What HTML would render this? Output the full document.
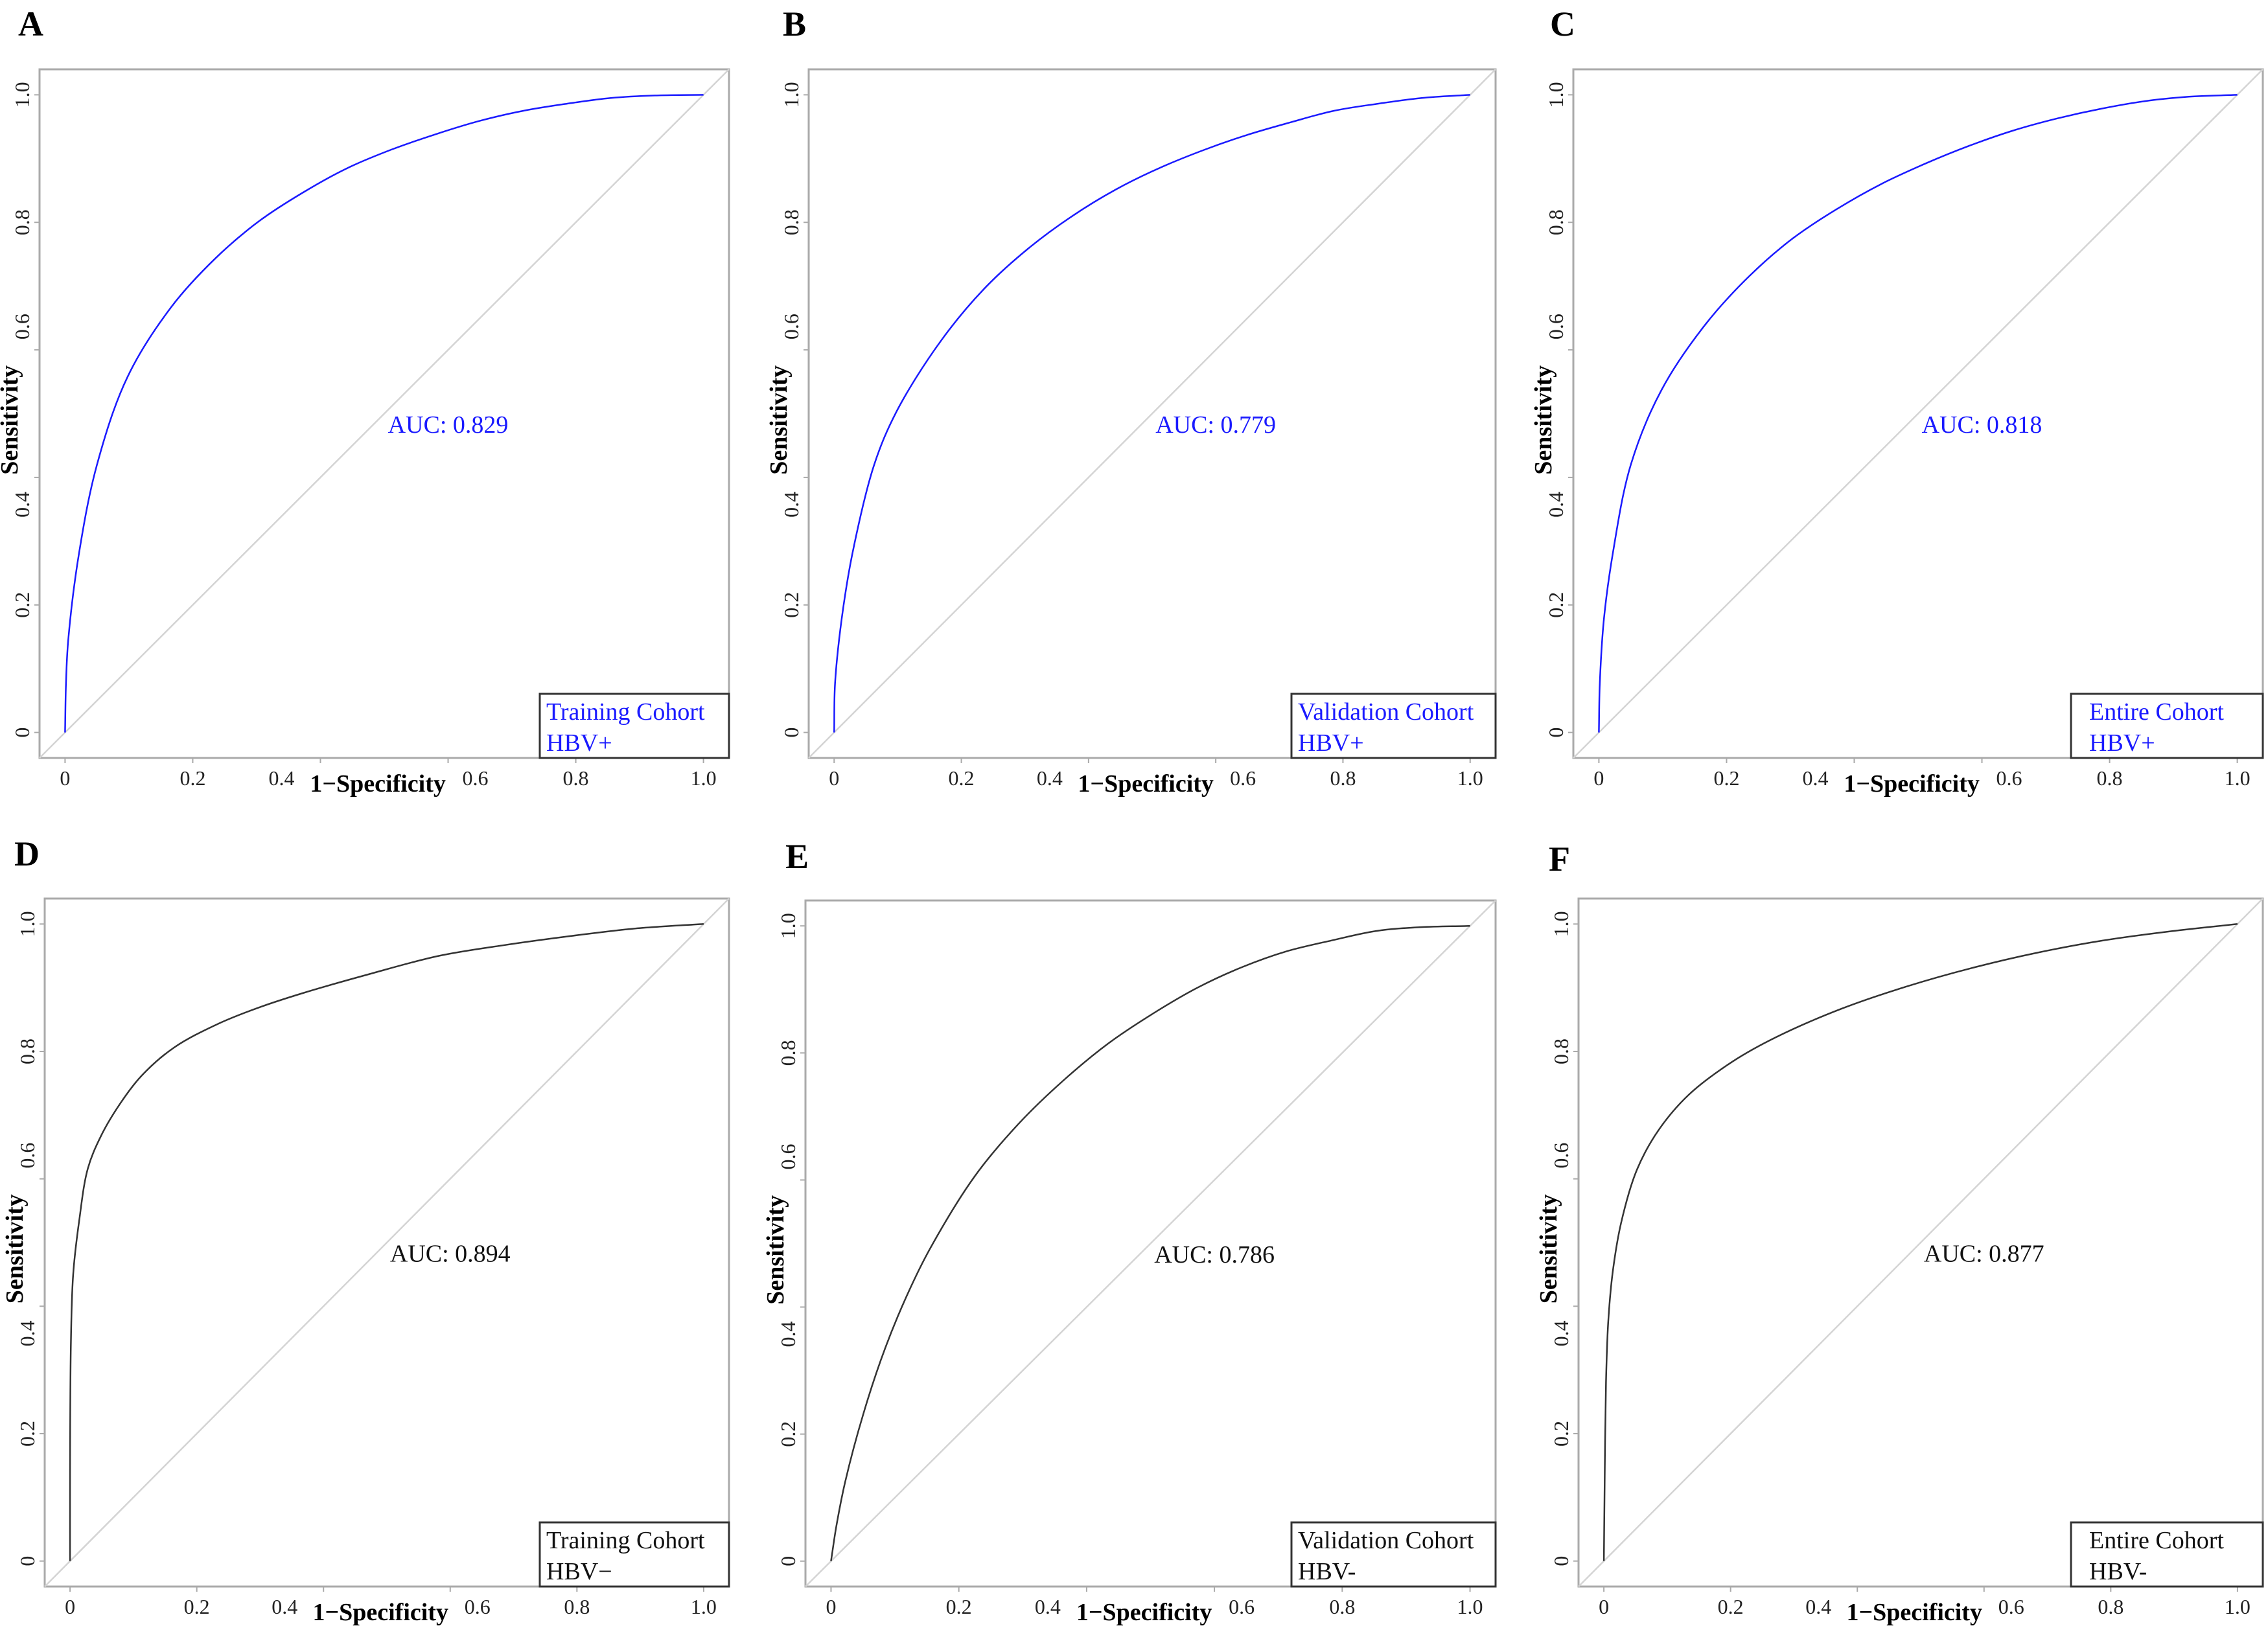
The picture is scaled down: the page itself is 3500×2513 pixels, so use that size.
<!DOCTYPE html>
<html><head><meta charset="utf-8">
<style>
html,body{margin:0;padding:0;background:#fff;}
svg{display:block;}
text{font-family:"Liberation Serif",serif;}
</style></head>
<body>
<svg id="fig" width="3500" height="2513" viewBox="0 0 3500 2513" xmlns="http://www.w3.org/2000/svg"></svg>
<script>
// ---- data ----
const panelLetters = ["A","B","C","D","E","F"];
const aucLabels = ["AUC: 0.829","AUC: 0.779","AUC: 0.818","AUC: 0.894","AUC: 0.786","AUC: 0.877"];
const legendLine1 = ["Training Cohort","Validation Cohort","Entire Cohort","Training Cohort","Validation Cohort","Entire Cohort"];
const legendLine2 = ["HBV+","HBV+","HBV+","HBV\u2212","HBV-","HBV-"];
const xTickValues = [0,0.2,0.4,0.6,0.8,1.0];
const xTickLabels = ["0","0.2","0.4","0.6","0.8","1.0"];
const yTickValues = [0,0.2,0.4,0.6,0.8,1.0];
const yTickLabels = ["0","0.2","0.4","0.6","0.8","1.0"];
const fprA = [0,0.0014,0.005,0.022,0.05,0.098,0.167,0.236,0.304,0.373,0.442,0.511,0.58,0.649,0.718,0.786,0.855,0.924,1];
const tprA = [0,0.076,0.145,0.282,0.42,0.558,0.668,0.744,0.802,0.847,0.885,0.914,0.938,0.959,0.975,0.986,0.995,0.999,1];
const fprB = [0,0.0014,0.012,0.029,0.063,0.098,0.167,0.236,0.304,0.373,0.442,0.511,0.58,0.649,0.718,0.786,0.855,0.924,1];
const tprB = [0,0.076,0.179,0.282,0.42,0.503,0.613,0.696,0.758,0.809,0.851,0.885,0.913,0.937,0.957,0.975,0.986,0.995,1];
const fprC = [0,0.0014,0.008,0.022,0.05,0.098,0.167,0.236,0.304,0.373,0.442,0.511,0.58,0.649,0.718,0.786,0.855,0.924,1];
const tprC = [0,0.076,0.179,0.282,0.42,0.537,0.64,0.716,0.775,0.821,0.86,0.892,0.92,0.944,0.963,0.978,0.99,0.997,1];
const fprD = [0,0,0.0014,0.005,0.0145,0.028,0.0487,0.079,0.113,0.164,0.233,0.301,0.369,0.471,0.582,0.686,0.789,0.892,1];
const tprD = [0,0.139,0.347,0.451,0.535,0.616,0.667,0.718,0.762,0.806,0.843,0.870,0.892,0.921,0.95,0.967,0.981,0.993,1];
const fprE = [0,0.008,0.022,0.05,0.085,0.12,0.155,0.225,0.295,0.364,0.434,0.504,0.574,0.643,0.713,0.783,0.853,0.922,1];
const tprE = [0,0.053,0.124,0.23,0.336,0.421,0.492,0.606,0.69,0.757,0.815,0.862,0.903,0.935,0.96,0.977,0.992,0.998,1];
const fprF = [0,0.0014,0.0034,0.007,0.014,0.027,0.052,0.086,0.134,0.203,0.271,0.375,0.478,0.581,0.684,0.787,0.89,1];
const tprF = [0,0.142,0.281,0.378,0.454,0.53,0.614,0.676,0.732,0.784,0.822,0.867,0.902,0.931,0.955,0.974,0.988,1];
const fprSeries = [fprA,fprB,fprC,fprD,fprE,fprF];
const tprSeries = [tprA,tprB,tprC,tprD,tprE,tprF];

// ---- layout (frames in px) ----
const frames = [
  {x:61,y:107,w:1064,h:1063,lx:28,ly:55,col:"#1a1aff"},
  {x:1248,y:107,w:1060,h:1063,lx:1208,ly:55,col:"#1a1aff"},
  {x:2428,y:107,w:1064,h:1063,lx:2392,ly:55,col:"#1a1aff"},
  {x:69,y:1387,w:1056,h:1062,lx:22,ly:1336,col:"#333"},
  {x:1243,y:1390,w:1065,h:1059,lx:1212,ly:1340,col:"#333"},
  {x:2436,y:1387,w:1056,h:1062,lx:2390,ly:1344,col:"#333"}
];
const NS="http://www.w3.org/2000/svg";
const svg=document.getElementById('fig');
function mk(tag,attrs,parent){const e=document.createElementNS(NS,tag);for(const k in attrs)e.setAttribute(k,attrs[k]);(parent||svg).appendChild(e);return e;}
function dist(a,b){return Math.hypot(a[0]-b[0],a[1]-b[1]);}
function smoothPath(pts){
  pts=pts.filter((p,k)=>k===0||dist(p,pts[k-1])>0.01);
  const n=pts.length, A=0.5;
  let d="M"+pts[0][0].toFixed(1)+","+pts[0][1].toFixed(1);
  for(let i=0;i<n-1;i++){
    const p0=pts[Math.max(0,i-1)],p1=pts[i],p2=pts[i+1],p3=pts[Math.min(n-1,i+2)];
    const d1=Math.pow(dist(p0,p1),A), d2=Math.pow(dist(p1,p2),A), d3=Math.pow(dist(p2,p3),A);
    let c1,c2;
    if(d1<1e-6){c1=[p1[0]+(p2[0]-p1[0])/3,p1[1]+(p2[1]-p1[1])/3];}
    else{const k=3*d1*(d1+d2);c1=[0,1].map(j=>(d1*d1*p2[j]-d2*d2*p0[j]+(2*d1*d1+3*d1*d2+d2*d2)*p1[j])/k);}
    if(d3<1e-6){c2=[p2[0]-(p2[0]-p1[0])/3,p2[1]-(p2[1]-p1[1])/3];}
    else{const k=3*d3*(d3+d2);c2=[0,1].map(j=>(d3*d3*p1[j]-d2*d2*p3[j]+(2*d3*d3+3*d3*d2+d2*d2)*p2[j])/k);}
    d+=" C"+c1[0].toFixed(1)+","+c1[1].toFixed(1)+" "+c2[0].toFixed(1)+","+c2[1].toFixed(1)+" "+p2[0].toFixed(1)+","+p2[1].toFixed(1);
  }
  return d;
}
const xLabelShift=[0,0,-60,42,0,0];
const yLabelShift=[0,0,42,-36,0,0];

frames.forEach((f,i)=>{
  const g=mk('g',{});
  
  
  const px=f.w*0.04/1.08, py=f.h*0.04/1.08;
  const X=v=>f.x+px+v*(f.w-2*px);
  const Y=v=>f.y+f.h-py-v*(f.h-2*py);

  const letter=mk('text',{x:f.lx,y:f.ly,'font-size':54,'font-weight':'bold'},g);
  letter.textContent=panelLetters[i];
  
  

  const fr=mk('rect',{x:f.x,y:f.y,width:f.w,height:f.h,fill:'none',stroke:'#aaa','stroke-width':3},g);
  
  

  const diag=mk('line',{x1:f.x,y1:f.y+f.h,x2:f.x+f.w,y2:f.y,stroke:'#d4d4d4','stroke-width':2.5},g);
  
  

  xTickValues.forEach((v,k)=>{
    const t=mk('line',{x1:X(v),y1:f.y+f.h,x2:X(v),y2:f.y+f.h+8,stroke:'#aaa','stroke-width':2},g);
    
    
    const lb=mk('text',{x:X(v)+xLabelShift[k],y:f.y+f.h+42,'font-size':32,'text-anchor':'middle',fill:'#222'},g);
    lb.textContent=xTickLabels[k];
    
    
  });
  yTickValues.forEach((v,k)=>{
    const t=mk('line',{x1:f.x-8,y1:Y(v),x2:f.x,y2:Y(v),stroke:'#aaa','stroke-width':2},g);
    
    
    const tx=f.x-16, ty=Y(v)+yLabelShift[k];
    const lb=mk('text',{x:tx,y:ty,'font-size':32,'text-anchor':'middle',fill:'#222',transform:'rotate(-90 '+tx+' '+ty+')'},g);
    lb.textContent=yTickLabels[k];
    
    
  });
  const ytx=f.x-34, yty=Y(0.49);
  const yt=mk('text',{x:ytx,y:yty,'font-size':38,'font-weight':'bold','text-anchor':'middle',transform:'rotate(-90 '+ytx+' '+yty+')'},g);
  yt.textContent='Sensitivity';
  
  
  const xt=mk('text',{x:X(0.49),y:f.y+f.h+52,'font-size':38,'font-weight':'bold','text-anchor':'middle'},g);
  xt.textContent='1\u2212Specificity';
  
  

  const pts=fprSeries[i].map((v,k)=>[X(v),Y(tprSeries[i][k])]);
  const curve=mk('path',{d:smoothPath(pts),fill:'none',stroke:f.col,'stroke-width':2.5},g);
  
  

  const auc=mk('text',{x:X(0.6),y:Y(0.47),'font-size':38,'text-anchor':'middle',fill:f.col==='#333'?'#111':'#1a1aff'},g);
  auc.textContent=aucLabels[i];
  
  

  const lw = (i%3===1)?315:(i%3===2?296:292);
  const lx=f.x+f.w-lw, ly=f.y+f.h-99;
  const lg=mk('rect',{x:lx,y:ly,width:lw,height:99,fill:'#fff',stroke:'#333','stroke-width':3},g);
  
  
  const tcol=i<3?'#1a1aff':'#111';
  const indent=(i%3===2)?28:10;
  const l1=mk('text',{x:lx+indent,y:ly+40,'font-size':38,fill:tcol},g);
  l1.textContent=legendLine1[i];
  
  
  const l2=mk('text',{x:lx+indent,y:ly+88,'font-size':38,fill:tcol},g);
  l2.textContent=legendLine2[i];
  
  
});
</script>
</body></html>
